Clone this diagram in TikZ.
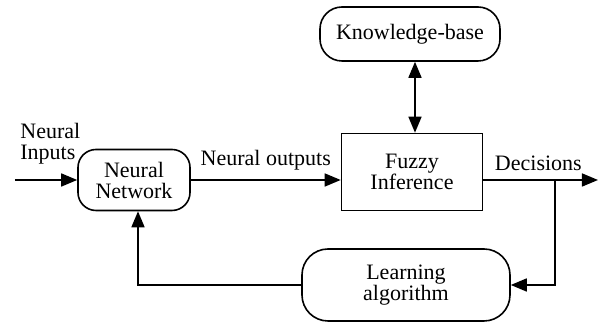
\documentclass[tikz,border=0pt]{standalone}
\usepackage{fontspec}
\setmainfont{Liberation Serif}
\usetikzlibrary{arrows.meta}
\tikzset{
  blk/.style={draw,thick,align=center,inner sep=1pt},
  rblk/.style={blk,rounded corners=9pt},
  flow/.style={thick,-{Triangle[length=8pt,width=6.5pt]}},
}
\begin{document}
\begin{tikzpicture}[x=0.5pt,y=-0.5pt,font=\fontsize{11}{10.5}\selectfont]
    \useasboundingbox (0,0) rectangle (602,324);
    \node[rblk,minimum width=56pt,minimum height=30.5pt] (net) at (134,180) {Neural\\Network};
    \node[blk,minimum width=70.5pt,minimum height=38.5pt] (fuzzy) at (412,172) {Fuzzy\\Inference};
    \node[rblk,minimum width=90pt,minimum height=27pt,rounded corners=11pt] (kb) at (410,34) {Knowledge-base};
    \node[rblk,minimum width=104pt,minimum height=36pt,rounded corners=13pt] (learn) at (406,285) {Learning\\algorithm};
    \coordinate (in) at (15,180);
    \coordinate (out) at (598,180);
    \coordinate (tap) at (555,180);
    \node[align=left,anchor=west,inner sep=1pt] (inlbl) at (18,144) {Neural\\Inputs};
    \draw[flow] (in)--(net.west);
    \draw[flow] (net.east)--node[above=1pt]{Neural outputs} (net.east -| fuzzy.west);
    \draw[flow] (net.east -| fuzzy.east)--node[above=1pt,pos=0.48]{Decisions} (out);
    \draw[thick,{Triangle[length=8pt,width=6.5pt]}-{Triangle[length=8pt,width=6.5pt]}] (kb.south -| 415,0)--(fuzzy.north -| 415,0);
    \draw[flow] (tap)|-(learn.east);
    \draw[flow] (learn.west)-|([xshift=2pt]net.south);
\end{tikzpicture}
\end{document}
